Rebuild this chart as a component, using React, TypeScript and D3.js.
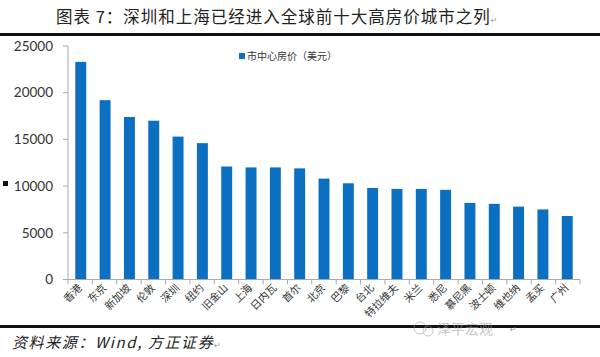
import React from "react";
import * as d3 from "d3";

const cities = ["香港","东京","新加坡","伦敦","深圳","纽约","旧金山","上海","日内瓦","首尔","北京","巴黎","台北","特拉维夫","米兰","悉尼","慕尼黑","波士顿","维也纳","孟买","广州"];
const prices = [23300,19200,17400,17000,15300,14600,12100,12000,12000,11900,10800,10300,9800,9700,9700,9600,8200,8100,7800,7500,6800];
const yTicks = [0,5000,10000,15000,20000,25000];
const seriesName = "市中心房价（美元）";
const titleText = "图表 7：深圳和上海已经进入全球前十大高房价城市之列";
const sourceText = "资料来源：Wind, 方正证券";

export default function App() {
  const W = 600, H = 357;
  const x0 = 68, x1 = 580, yTop = 46, yBot = 279.5;
  const x = d3.scaleBand<string>().domain(cities).range([x0, x1]).paddingInner(0.55).paddingOuter(0.3);
  const y = d3.scaleLinear().domain([0, 25000]).range([yBot, yTop]);
  const boundaries = d3.range(cities.length + 1).map(i => x0 + i * ((x1 - x0) / cities.length));
  const blue = "#0b6fc2";
  return (
    <svg width={W} height={H} style={{ position: "absolute", left: 0, top: 0, background: "#fff" }}>
      <rect width={W} height={H} fill="#fff" />
      <text x={56} y={23} fontFamily="'Noto Sans CJK SC', serif" fontSize={16.5} letterSpacing={1} fill="#222">
        {titleText}
        <tspan fontSize={8} fill="#999" fontFamily="'DejaVu Sans'">↵</tspan>
      </text>
      <rect x={0} y={33} width={W} height={3} fill="#111" />
      {/* y axis */}
      <line x1={x0} x2={x0} y1={yTop} y2={yBot} stroke="#aaa" />
      {yTicks.map(t => (
        <g key={t}>
          <line x1={x0 - 5} x2={x0} y1={y(t)} y2={y(t)} stroke="#aaa" />
          <text x={53} y={y(t)} dy="0.35em" textAnchor="end" fontFamily="Lato, 'Open Sans', sans-serif" fontSize={13.5} fill="#333">{t}</text>
        </g>
      ))}
      <rect x={3} y={181} width={5} height={5} fill="#111" />
      {/* bars */}
      {cities.map((c, i) => (
        <rect key={c} x={x(c)} y={y(prices[i])} width={x.bandwidth()} height={yBot - y(prices[i])} fill={blue} />
      ))}
      {/* x axis */}
      <line x1={x0} x2={x1} y1={yBot} y2={yBot} stroke="#aaa" />
      {boundaries.map((b, i) => (
        <line key={i} x1={b} x2={b} y1={yBot} y2={yBot + 5} stroke="#aaa" />
      ))}
      {cities.map(c => {
        const cx = (x(c) as number) + x.bandwidth() / 2 + 2;
        return (
          <text key={c} transform={`translate(${cx},${yBot + 9}) rotate(-45)`} textAnchor="end" fontFamily="'Noto Sans CJK SC', serif" fontSize={10.5} fill="#333">{c}</text>
        );
      })}
      {/* legend */}
      <rect x={239} y={53} width={6} height={6} fill={blue} />
      <text x={247} y={59.5} fontFamily="'Noto Sans CJK SC', sans-serif" fontSize={10} fill="#333">{seriesName}</text>
      {/* bottom */}
      <rect x={0} y={325} width={W} height={3} fill="#111" />
      <text x={12} y={348} fontFamily="'Noto Sans CJK SC', serif" fontSize={15} letterSpacing={1.6} fontStyle="italic" fill="#222">
        {sourceText}
        <tspan fontSize={8} fill="#999" fontFamily="'DejaVu Sans'" fontStyle="normal">↵</tspan>
      </text>
      <g opacity={0.55}>
        <circle cx={420} cy={328} r={6} fill="none" stroke="#999" />
        <circle cx={428} cy={331} r={5} fill="none" stroke="#999" />
        <text x={437} y={334} fontFamily="'Noto Sans CJK SC', sans-serif" fontSize={14} fill="#999">泽平宏观</text>
      </g>
      <text x={510} y={332} fontSize={8} fill="#999" fontFamily="'DejaVu Sans'">↵</text>
    </svg>
  );
}
